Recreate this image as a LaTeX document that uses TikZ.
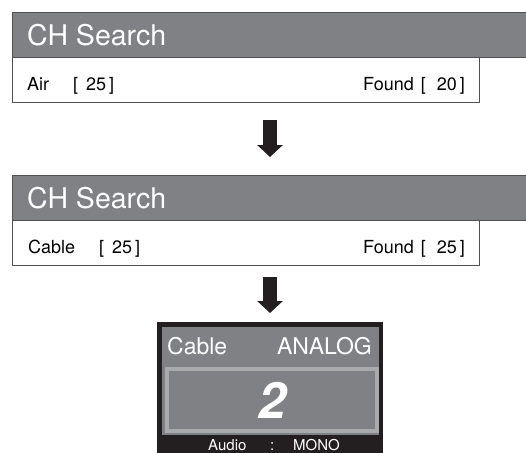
\documentclass[tikz,border=0pt]{standalone}
\usepackage{fontspec}
\setmainfont{TeX Gyre Heros}
\usepackage{xcolor}
\usetikzlibrary{arrows.meta, positioning}

\definecolor{panelgray}{HTML}{808185}
\definecolor{linegray}{HTML}{505153}
\definecolor{tvdark}{HTML}{231F20}
\definecolor{tvframe}{HTML}{A9AAAC}

\begin{document}
\begin{tikzpicture}[x=1pt, y=-1pt,
    header/.style={rectangle, draw=linegray, line width=1pt, fill=panelgray, minimum width=520pt, minimum height=45pt, anchor=north west, inner sep=0pt},
    infobox/.style={rectangle, draw=linegray, line width=1pt, fill=white, minimum width=467pt, minimum height=45pt, anchor=north west, inner sep=0pt},
    title/.style={text=white, font=\fontsize{28.5}{30}\selectfont, inner sep=0pt, anchor=base west},
    entry/.style={font=\fontsize{18}{20}\selectfont, inner sep=0pt},
    tvtext/.style={text=white, font=\fontsize{23}{25}\selectfont, inner sep=0pt},
    audiotext/.style={text=white, font=\fontsize{15}{17}\selectfont, inner sep=0pt, anchor=base west},
    flow/.style={draw=tvdark, line width=14pt, -{Triangle[width=25pt, length=12pt]}},
  ]
    \clip (0,0) rectangle (526,452);

    % Air search panel
    \node[header] (hdr1) at (12,12) {};
    \node[infobox] (box1) at (12,57) {};
    \node[title] (ttl1) at (27,45.5) {CH Search};
    \node[entry, anchor=base west] (src1) at (27,90) {Air};
    \node[entry, anchor=base west] (cnt1) at (73,90) {[\hspace{8pt}25\hspace{3pt}]};
    \node[entry, anchor=base east] (fnd1) at (465,90) {Found\hspace{7pt}[\hspace{11pt}20\hspace{3pt}]};

    % Arrow to cable search
    \coordinate (a1s) at (270,120);
    \coordinate (a1e) at (270,157);
    \draw[flow] (a1s) -- (a1e);

    % Cable search panel
    \node[header] (hdr2) at (12,175) {};
    \node[infobox] (box2) at (12,220) {};
    \node[title] (ttl2) at (27,208.5) {CH Search};
    \node[entry, anchor=base west] (src2) at (28,253) {Cable};
    \node[entry, anchor=base west] (cnt2) at (99,253) {[\hspace{8pt}25\hspace{3pt}]};
    \node[entry, anchor=base east] (fnd2) at (465,253) {Found\hspace{7pt}[\hspace{11pt}25\hspace{3pt}]};

    % Arrow to channel screen
    \coordinate (a2s) at (270,277);
    \coordinate (a2e) at (270,313);
    \draw[flow] (a2s) -- (a2e);

    % Channel screen
    \node[rectangle, fill=tvdark, minimum width=226pt, minimum height=140pt, anchor=north west, inner sep=0pt] (tv) at (157,322) {};
    \node[rectangle, fill=panelgray, minimum width=217.5pt, minimum height=108pt, anchor=north west, inner sep=0pt] (screen) at (161.5,327) {};
    \node[rectangle, draw=tvframe, line width=4pt, fill=panelgray, minimum width=210pt, minimum height=62pt, anchor=north west, inner sep=0pt] (chbox) at (165,367) {};
    \node[tvtext, anchor=base west] (tvsrc) at (167,354) {Cable};
    \node[tvtext, anchor=base east] (tvmode) at (372,354) {ANALOG};
    \node[text=white, font=\fontsize{50}{52}\selectfont\bfseries\itshape, inner sep=0pt, anchor=base] (chnum) at (272,418) {2};
    \node[audiotext] (aud) at (208,450) {Audio};
    \node[audiotext] (sep) at (270,450) {:};
    \node[audiotext] (mono) at (293,450) {MONO};

  \end{tikzpicture}
\end{document}
